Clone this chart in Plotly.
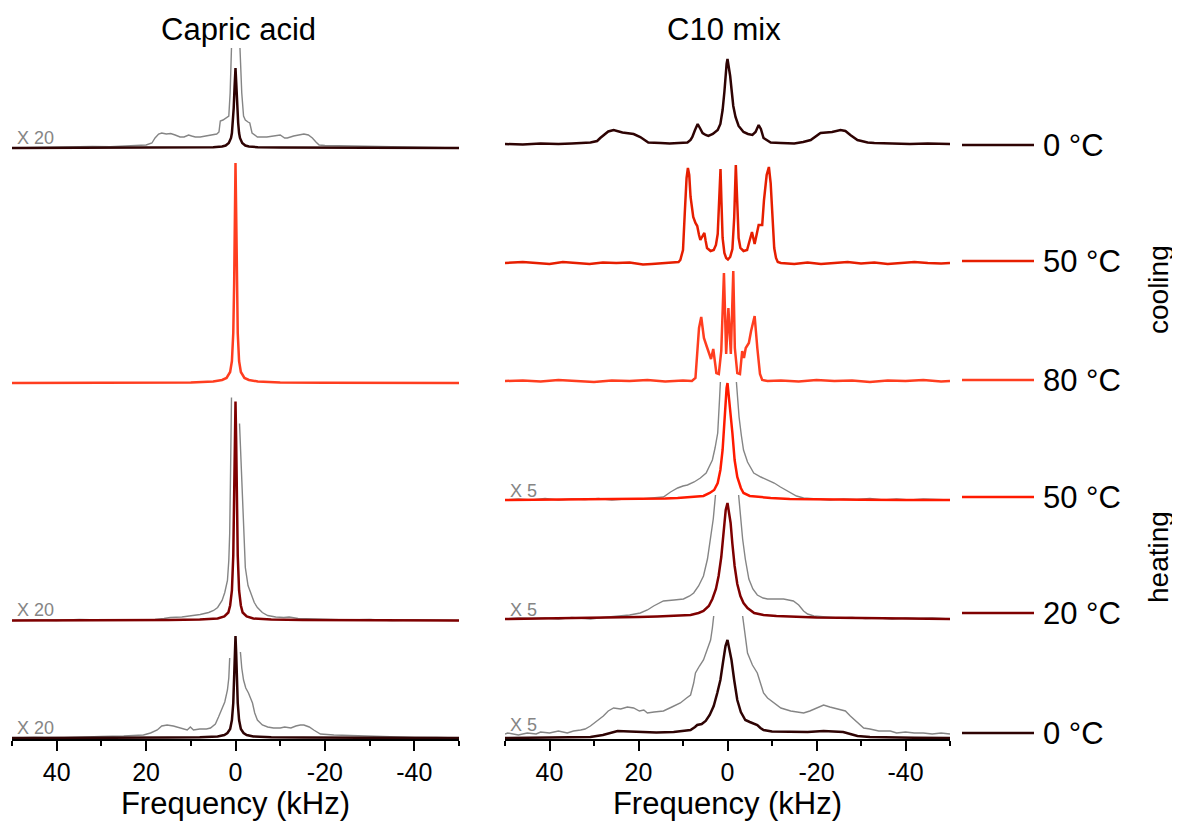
import plotly.graph_objects as go

# colours of the temperature steps
C_0 = "#2e0303"
C_20 = "#7f0000"
C_50H = "#ff1a00"
C_50C = "#e61e00"
C_80 = "#ff3d1f"
GREY = "#858585"
FONT = "Liberation Sans, Arial, sans-serif"

# ---------------- Capric acid (left panel) ----------------
# 0 C, cooling
cap_0c_f = [50, 20, 10, 5, 3, 2.2, 1.5, 1.0, 0.8, 0.6, 0.4, 0.2, 0,
            -0.2, -0.4, -0.6, -0.8, -1.0, -1.5, -2.2, -3, -5, -10, -20, -50]
cap_0c_i = [0, 0.2, 0.4, 0.8, 1.5, 2.5, 5, 10, 15, 25, 40, 62, 80,
            62, 40, 25, 15, 10, 5, 2.5, 1.5, 0.8, 0.4, 0.2, 0]
cap_0c_x20_f = [50, 45, 40, 35, 32, 28, 25, 22, 20, 18.7, 18, 17.2, 16.5, 15.5, 14.5,
                13.5, 12.4, 11.5, 10.5, 9.8, 9, 7.9, 6.5, 4.9, 4.2, 3.7, 3.4, 2.8, 2.0,
                1.5, 1.2, 0.9, None,
                -1.0, -1.4, -1.8, -2.2, -2.8, -3.2, -3.7, -4.9, -7, -9, -10, -11, -11.6,
                -13, -13.9, -15.3, -16.3, -17.2, -18, -18.7, -20, -25, -30, -35, -40,
                -45, -50]
cap_0c_x20_i = [0, 0.5, 0.3, 1, 1.5, 1.2, 2, 2.5, 3, 5, 10, 14, 15, 14, 14.5,
                13, 11, 11, 13, 12, 11, 11, 12, 13, 14, 16, 27, 28, 30,
                32, 55, 100, None,
                100, 55, 32, 28, 26, 25, 15, 11, 11, 12, 13, 10, 10,
                12, 13, 14, 13, 10, 6, 3, 2.5, 2, 1.5, 1, 0.8,
                0.3, 0]
# 80 C, cooling
cap_80c_f = [50, 20, 10, 5, 3, 2, 1.2, 0.8, 0.5, 0.3, 0.15, 0,
             -0.15, -0.3, -0.5, -0.8, -1.2, -2, -3, -5, -10, -20, -50]
cap_80c_i = [0, 0.3, 0.6, 1.5, 3, 5, 11, 22, 50, 100, 170, 220,
             170, 100, 50, 22, 11, 5, 3, 1.5, 0.6, 0.3, 0]
# 20 C, heating
cap_20h_f = [50, 30, 15, 8, 4, 2.5, 1.6, 1.2, 0.8, 0.5, 0.3, 0.15, 0,
             -0.15, -0.3, -0.5, -0.8, -1.2, -1.6, -2.5, -4, -8, -15, -30, -50]
cap_20h_i = [0, 0, 0.5, 1, 2, 4, 8, 15, 30, 65, 120, 180, 219,
             180, 120, 65, 30, 15, 8, 4, 2, 1, 0.5, 0, 0]
cap_20h_x20_f = [50, 45, 40, 35, 30, 25, 20, 18, 16, 14.6, 12, 10, 7.9, 6, 4.9, 4, 3,
                 2.4, 1.8, 1.5, 1.3, 1.1, 0.9, None,
                 -0.9, -1.2, -1.6, -1.9, -2.2, -2.8, -3.4, -4.2, -4.9, -6, -7.2, -9,
                 -10.8, -12, -14, -17, -20, -25, -30, -35, -40, -45, -50]
cap_20h_x20_i = [0, 0.5, 0, 1, 0.5, 1, 1.5, 1, 2, 3, 3.5, 4.5, 6, 8, 10, 13, 20,
                 28, 40, 60, 87, 150, 223, None,
                 197, 160, 120, 80, 53, 35, 27, 18, 13, 8, 5, 3.5,
                 3, 3.5, 2, 1.5, 1, 0.5, 1, 0, 0.5, 0, 0]
# 0 C, heating
cap_0h_f = [50, 30, 15, 8, 4, 2.5, 1.8, 1.2, 0.8, 0.5, 0.3, 0.15, 0,
            -0.15, -0.3, -0.5, -0.8, -1.2, -1.8, -2.5, -4, -8, -15, -30, -50]
cap_0h_i = [0, 0, 0.4, 0.8, 1.5, 3, 5, 9, 18, 35, 60, 85, 102,
            85, 60, 35, 18, 9, 5, 3, 1.5, 0.8, 0.4, 0, 0]
cap_0h_x20_f = [50, 45, 40, 35, 30, 25, 22, 20.6, 19, 17.5, 16.5, 15.3, 13.9, 12.5, 11.5,
                10.8, 10.1, 9.4, 8, 6.5, 5.6, 4.5, 3.8, 3, 2.4, 1.8, 1.5, 1.3, None,
                -1.1, -1.4, -1.8, -2.3, -2.9, -3.4, -3.8, -4.3, -4.9, -6, -7.2, -8.5,
                -10, -11, -12.4, -13.5, -14.5, -15.3, -16.5, -17.5, -19, -22, -26, -30,
                -35, -40, -45, -50]
cap_0h_x20_i = [0, 0.5, 0, 1, 1.5, 2, 3, 3, 5, 8, 12, 13, 12, 10, 9,
                8, 11, 8, 9, 9, 10, 14, 21, 30, 36, 48, 60, 80, None,
                86, 70, 58, 50, 45, 40, 35, 25, 18, 13, 11, 10,
                10, 11, 10, 12, 13, 13, 11, 8, 4, 3, 2.5, 1.5,
                1, 0.5, 0.5, 0]

# ---------------- C10 mix (right panel) ----------------
mix_0c_f = [50, 46, 42, 38, 35, 32.5, 30.8, 29.3, 28.6, 26.8, 25.6, 23.6, 22, 21.1, 19.6,
            18.5, 17.8, 15, 13, 11, 9, 8.3, 7.9, 7.3, 6.7, 6.2, 5.6, 4.9, 4.3, 3.3,
            2.2, 1.6, 1.1, 0.7, 0.45, 0.2, 0, -0.3, -0.6, -0.9, -1.3, -1.8, -2.5,
            -3.6, -4.6, -5.6, -6.3, -7, -7.5, -8.1, -9, -9.7, -12, -15, -17, -18.7,
            -20.9, -23.5, -25.4, -26.5, -27.6, -29.2, -31.5, -33, -37, -41, -45, -50]
mix_0c_i = [0, -0.5, 0.5, 0, 0.5, 1, 1.5, 3, 6, 12.5, 14, 11.5, 10.5, 10, 7,
            4, 1.5, 1, 0.5, 1, 1.5, 4, 7, 14, 20, 16, 11, 9, 8, 10,
            14, 20, 34, 52, 71, 80, 85, 78, 68, 55, 38, 27, 18,
            12, 10, 9, 12, 19, 15, 6, 3, 1.5, 1, 0.5, 2, 4,
            11, 12, 14, 13, 9, 4, 1.5, 1, 0.5, 0, 0.5, 0]
mix_50c_f = [50, 46, 43, 40, 37, 34, 31, 28, 25, 22, 19, 17, 14, 12, 11, 10.6, 10.0,
             9.6, 9.2, 8.9, 8.6, 8.3, 7.7, 7.2, 6.8, 6.4, 6.1, 5.6, 5.2, 4.9, 4.6,
             3.8, 3.1, 2.6, 2.2, 1.9, 1.57, 1.35, 1.1, 0.7, 0.3, -0.1, -0.6, -1.1,
             -1.5, -1.87, -2.15, -2.5, -2.9, -3.6, -4.4, -5.0, -5.5, -6.1, -6.6, -7.0,
             -7.8, -8.2, -8.8, -9.3, -9.7, -10.1, -10.5, -10.9, -11.3, -12, -15, -18,
             -21, -24, -27, -30, -33, -36, -39, -42, -45, -48, -50]
mix_50c_i = [0, 1, 0, -1, 1, 0, -1, 0.5, 0, 0.5, -1.5, -1, 0, 0.5, 1, 3, 13,
             50, 85, 95, 88, 66, 46, 40, 37, 28, 23, 27, 30, 22, 15,
             12, 13, 18, 29, 60, 94, 60, 25, 10, 5, 3.5, 6, 14,
             45, 98, 60, 25, 15, 12, 13, 22, 31, 19, 30, 38,
             38, 63, 88, 96, 80, 40, 15, 5, 1, 0, -1, 0.5,
             -1, 0, 1, -0.5, 0.5, -1, 0, 1, 0, -0.5, 0]
mix_80c_f = [50, 46, 42, 38, 34, 30, 26, 22, 18, 14, 10, 8, 7.2, 6.8, 6.4, 5.9, 5.3,
             4.7, 4.2, 3.7, 3.2, 2.85, 2.5, 1.95, 1.4, 0.8, 0.3, -0.2, -0.75, -1.3,
             -1.65, -2.2, -2.8, -3.3, -3.7, -4.1, -4.8, -5.3, -6.1, -6.7, -7.3, -7.8,
             -9, -12, -16, -20, -24, -28, -32, -36, -40, -44, -48, -50]
mix_80c_i = [0, 0.5, -0.5, 1, 0, -1, 0.5, 0, 1, -0.5, 0.5, 0, 3, 30, 53, 64, 43,
             35, 28, 22, 32, 22, 8, 7, 30, 108, 27, 73, 27, 110,
             33, 8, 7, 30, 23, 33, 38, 50, 65, 33, 7, 1,
             0, 0.5, -0.5, 1, 0, 0.5, -1, 0.5, 0, 1, -0.5, 0]
mix_50h_f = [50, 40, 30, 20, 14, 11.2, 8, 5.4, 4, 3, 2.2, 1.6, 1.1, 0.7, 0.45, 0.2, 0,
             -0.3, -0.7, -1.1, -1.6, -2.2, -3, -3.6, -5, -7, -9.7, -14, -20, -30,
             -40, -50]
mix_50h_i = [0, 0.3, 0.5, 1, 1.5, 2, 3, 4, 7, 10, 17, 30, 50, 75, 100, 112, 117,
             105, 85, 67, 40, 23, 12, 7, 4, 3, 2, 1, 0.5, 0.3,
             0, 0]
mix_50h_x5_f = [50, 47, 44, 41, 38, 35, 32, 29, 26, 23, 19.6, 17, 14.4, 12.8, 11.2, 10,
                9.0, 7.5, 6.1, 4.8, 3.4, 2.8, 2.2, 1.8, 1.6, None,
                -2.0, -2.6, -3.1, -3.6, -4.5, -5.9, -7.5, -9, -10.5, -11.9, -13, -14.2,
                -15.5, -17.1, -20, -23, -26, -29, -32, -35, -38, -41, -44, -47, -50]
mix_50h_x5_i = [0, 1, 0, 1.5, 0, 1, 0.5, 1.5, 0, 1, 1, 2, 3, 8, 12, 14,
                15, 18, 22, 27, 40, 52, 67, 100, 118, None,
                118, 83, 65, 50, 38, 27, 23, 20, 17, 13, 10, 7,
                4, 2, 1, 0, 1, 0.5, 1.5, 0, 1, 0, 1, 0.5, 0]
mix_20h_f = [50, 40, 30, 20, 15.8, 11, 8.3, 6.5, 5.4, 4.2, 3.4, 2.6, 2.0, 1.4, 0.9, 0.4,
             0, -0.4, -0.7, -1.1, -1.6, -2.2, -2.9, -3.6, -4.5, -6, -8.1, -11, -14,
             -20, -30, -40, -50]
mix_20h_i = [0, 0.5, 1, 2, 2.5, 3, 4, 6, 8, 13, 20, 30, 43, 62, 86, 109,
             116, 106, 96, 75, 53, 35, 23, 16, 11, 6, 4, 3, 2.5,
             1.5, 1, 0.5, 0]
mix_20h_x5_f = [50, 47, 44, 41, 38, 35, 32, 30.8, 28, 24.7, 22, 19.6, 18, 16.6, 14.4, 12,
                9.9, 8.5, 7.6, 6.5, 5.4, 4.5, 3.8, 3.2, 2.7, None,
                -2.5, -2.9, -3.4, -4.0, -4.8, -5.7, -6.7, -8, -9, -11, -12.6, -14.8,
                -16, -17.1, -18, -19.4, -22, -25, -28, -31, -34, -37, -40, -43, -46, -50]
mix_20h_x5_i = [0, 1, 0.5, 1, 0, 1.5, 0.5, 0, 1.5, 2.5, 4, 6, 9, 13, 18, 19,
                20, 23, 26, 33, 43, 60, 80, 100, 124, None,
                124, 105, 80, 60, 40, 30, 24, 21, 20, 20, 20, 18,
                14, 8, 5, 3, 2, 1, 1.5, 0.5, 1, 0, 1, 0.5, 1, 0]
mix_0h_f = [50, 45, 40, 35, 30.8, 28, 25.6, 24.7, 22, 19.6, 16, 12.1, 10, 8.3, 7.3, 6.8,
            5.8, 4.9, 4, 3.1, 2.3, 1.6, 1.0, 0.45, 0, -0.4, -0.9, -1.5, -2.2, -3, -4.0,
            -5, -6, -6.7, -7.4, -8.1, -10, -14.2, -18, -21.6, -24, -26, -27.6, -29.2,
            -32, -36, -42, -50]
mix_0h_i = [0, 0.3, 0.5, 0.5, 1, 3, 6, 7, 6.5, 6, 5.5, 6, 7, 8, 11, 13,
            14, 17, 23, 32, 45, 58, 76, 92, 98, 90, 78, 58, 38, 26, 18,
            16, 14, 13, 10, 8, 6.5, 6, 6, 7, 6.5, 6, 4, 2,
            1, 0.5, 0.3, 0]
mix_0h_x5_f = [50, 49.4, 47, 45, 43, 42, 40, 38, 36, 34.6, 33, 32, 30.8, 29.3, 27.9, 26.8,
               25.6, 24, 22.5, 21.1, 19.8, 18.8, 18, 16.5, 14.4, 12.5, 10.6, 9.2, 8.3,
               7.6, 7.2, 6.3, 5.4, 4.6, 3.8, 3.4, 3.1, None,
               -3.4, -3.9, -4.5, -5.6, -6.7, -7.4, -8.1, -9, -10.4, -12, -14.2, -15.5,
               -17.1, -18.5, -20, -21.6, -23, -25.4, -26.5, -27.6, -29, -30.6, -32, -34,
               -36.6, -38, -40, -42, -44, -46, -48, -50]
mix_0h_x5_i = [4, 5, 3, 5, 4, 6, 5, 7, 5, 7, 8, 9, 12, 17, 22, 27,
               30, 29, 31, 30, 27, 28, 25, 26, 27, 31, 35, 40, 43,
               55, 65, 72, 78, 88, 98, 110, 122, None,
               122, 105, 85, 73, 65, 55, 45, 40, 35, 30, 27, 26,
               25, 27, 30, 33, 31, 28, 27, 22, 16, 10, 9, 7,
               7, 5, 6, 5, 5, 4, 5, 4]

# stack offsets (y units = pixels of the stacked plot)
stack_cap = [591, 356, 118.5, 1]
stack_mix = [595, 476, 358, 239, 120, 1]

freq_ticks = [40, 20, 0, -20, -40]
freq_tick_text = ["40", "20", "0", "-20", "-40"]

legend_text = ["0 °C", "50 °C", "80 °C", "50 °C", "20 °C", "0 °C"]
legend_cols = [C_0, C_50C, C_80, C_50H, C_20, C_0]
legend_y = [594, 478, 359, 242, 126, 6]

W, H, PAD = 1180, 825, 8  # page body margin shifts the figure by PAD px


def px(v):
    return (v - PAD) / W


def py(v):
    return (H - (v - PAD)) / H


def shifted(vals, off):
    return [None if v is None else v + off for v in vals]


fig = go.Figure()


def add_spec(f, i, off, color, width, xa, ya):
    fig.add_trace(go.Scatter(x=f, y=shifted(i, off), mode="lines",
                             line=dict(color=color, width=width),
                             connectgaps=False, xaxis=xa, yaxis=ya,
                             showlegend=False, hoverinfo="skip"))


# left panel
add_spec(cap_0c_x20_f, cap_0c_x20_i, stack_cap[0], GREY, 1.4, "x", "y")
add_spec(cap_0c_f, cap_0c_i, stack_cap[0], C_0, 2.5, "x", "y")
add_spec(cap_80c_f, cap_80c_i, stack_cap[1], C_80, 2.5, "x", "y")
add_spec(cap_20h_x20_f, cap_20h_x20_i, stack_cap[2], GREY, 1.4, "x", "y")
add_spec(cap_20h_f, cap_20h_i, stack_cap[2], C_20, 2.5, "x", "y")
add_spec(cap_0h_x20_f, cap_0h_x20_i, stack_cap[3], GREY, 1.4, "x", "y")
add_spec(cap_0h_f, cap_0h_i, stack_cap[3], C_0, 2.5, "x", "y")

# right panel
add_spec(mix_0c_f, mix_0c_i, stack_mix[0], C_0, 2.5, "x2", "y2")
add_spec(mix_50c_f, mix_50c_i, stack_mix[1], C_50C, 2.5, "x2", "y2")
add_spec(mix_80c_f, mix_80c_i, stack_mix[2], C_80, 2.5, "x2", "y2")
add_spec(mix_50h_x5_f, mix_50h_x5_i, stack_mix[3], GREY, 1.4, "x2", "y2")
add_spec(mix_50h_f, mix_50h_i, stack_mix[3], C_50H, 2.5, "x2", "y2")
add_spec(mix_20h_x5_f, mix_20h_x5_i, stack_mix[4], GREY, 1.4, "x2", "y2")
add_spec(mix_20h_f, mix_20h_i, stack_mix[4], C_20, 2.5, "x2", "y2")
add_spec(mix_0h_x5_f, mix_0h_x5_i, stack_mix[5], GREY, 1.4, "x2", "y2")
add_spec(mix_0h_f, mix_0h_i, stack_mix[5], C_0, 2.5, "x2", "y2")

xaxis_style = dict(
    range=[50, -50], tickvals=freq_ticks, ticktext=freq_tick_text,
    showline=True, linecolor="black", linewidth=2,
    ticks="outside", ticklen=10, tickwidth=2, tickcolor="black",
    minor=dict(tickvals=[50, 30, 10, -10, -30, -50], ticklen=5, tickwidth=2,
               tickcolor="black", ticks="outside"),
    showgrid=False, zeroline=False, automargin=False,
    tickfont=dict(family=FONT, size=25, color="black"),
    title=dict(text="Frequency (kHz)", standoff=4,
               font=dict(family=FONT, size=31, color="black")),
)
plot_h = 739 - PAD
yaxis_style = dict(range=[0, plot_h], domain=[(H - plot_h) / H, 1], visible=False,
                   fixedrange=True)

fig.update_layout(
    width=W, height=H,
    margin=dict(l=0, r=0, t=0, b=0),
    paper_bgcolor="white", plot_bgcolor="white",
    showlegend=False,
    xaxis=dict(domain=[px(12), px(459)], anchor="y", **xaxis_style),
    xaxis2=dict(domain=[px(505), px(950)], anchor="y2", **xaxis_style),
    yaxis=dict(anchor="x", **yaxis_style),
    yaxis2=dict(anchor="x2", **yaxis_style),
)

ann = []
# panel titles
ann.append(dict(text="Capric acid", xref="paper", yref="paper", x=px(238),
                y=py(30), xanchor="center", yanchor="middle", showarrow=False,
                font=dict(family=FONT, size=31, color="black")))
ann.append(dict(text="C10 mix", xref="paper", yref="paper", x=px(724),
                y=py(30), xanchor="center", yanchor="middle", showarrow=False,
                font=dict(family=FONT, size=31, color="black")))
# magnification tags
for xa, ya, yv, txt in [("x", "y", 601, "X 20"), ("x", "y", 129, "X 20"),
                        ("x", "y", 11, "X 20"), ("x2", "y2", 248, "X 5"),
                        ("x2", "y2", 129, "X 5"), ("x2", "y2", 14, "X 5")]:
    ann.append(dict(text=txt, xref=xa, yref=ya, x=49.3, y=yv, xanchor="left",
                    yanchor="middle", showarrow=False,
                    font=dict(family=FONT, size=18, color=GREY)))
# temperature key
for txt, col, yv in zip(legend_text, legend_cols, legend_y):
    fig.add_shape(type="line", xref="paper", yref="y2", x0=px(962),
                  x1=px(1034), y0=yv, y1=yv, line=dict(color=col, width=2.5))
    ann.append(dict(text=txt, xref="paper", yref="y2", x=px(1041), y=yv,
                    xanchor="left", yanchor="middle", showarrow=False,
                    font=dict(family=FONT, size=31, color="black")))
ann.append(dict(text="cooling", xref="paper", yref="y2", x=px(1158), y=449,
                xanchor="center", yanchor="middle", textangle=-90,
                showarrow=False, font=dict(family=FONT, size=28, color="black")))
ann.append(dict(text="heating", xref="paper", yref="y2", x=px(1158), y=182,
                xanchor="center", yanchor="middle", textangle=-90,
                showarrow=False, font=dict(family=FONT, size=28, color="black")))
fig.update_layout(annotations=ann)

fig.write_html("out.html")
